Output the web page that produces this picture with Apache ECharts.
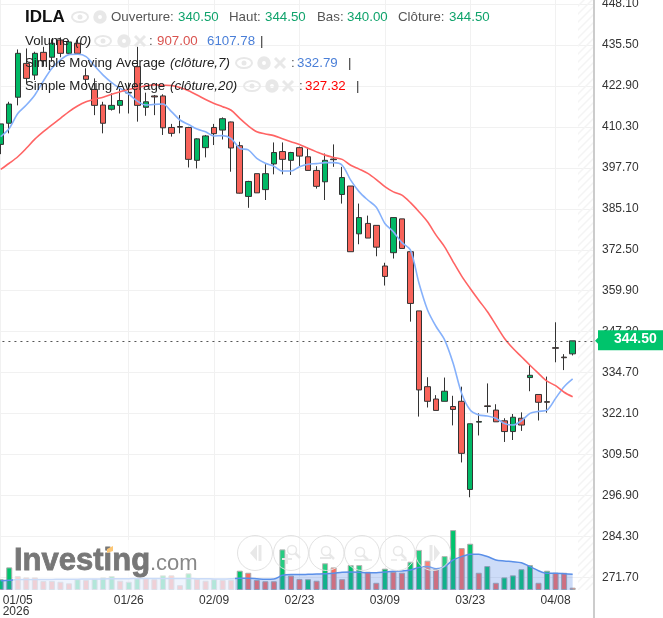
<!DOCTYPE html>
<html>
<head>
<meta charset="utf-8">
<title>IDLA</title>
<style>
html, body { margin: 0; padding: 0; background: #fff; }
#chart { width: 663px; height: 618px; }
</style>
<script src="https://cdn.jsdelivr.net/npm/echarts@6/dist/echarts.min.js"></script>
</head>
<body>
<div id="chart"></div>
<script>
// seances, dans l'ordre du graphique (les deux vides laissent la marge a droite)
const dates = [
  '01/05','01/06','01/07','01/08','01/09','01/12','01/13','01/14','01/15','01/16',
  '01/19','01/20','01/21','01/22','01/23','01/26','01/27','01/28','01/29','01/30',
  '02/02','02/03','02/04','02/05','02/06','02/09','02/10','02/11','02/12','02/13',
  '02/16','02/17','02/18','02/19','02/20','02/23','02/24','02/25','02/26','02/27',
  '03/02','03/03','03/04','03/05','03/06','03/09','03/10','03/11','03/12','03/13',
  '03/16','03/17','03/18','03/19','03/20','03/23','03/24','03/25','03/26','03/27',
  '03/30','03/31','04/01','04/02','04/07','04/08','04/09','04/10','',' '
]
const dateTicks = ['01/05','01/26','02/09','02/23','03/09','03/23','04/08']
const priceTicks = [448.1,435.5,422.9,410.3,397.7,385.1,372.5,359.9,347.3,334.7,322.1,309.5,296.9,284.3,271.7]

const opens = [
  404.9,411.4,419.4,429.8,426.2,433.2,431.7,437,432.9,436,
  426,421.8,417,415.7,416.9,420.7,428.8,416.3,419.8,419.8,
  410.1,410.4,410.1,400,403.9,410.1,409.3,411.8,404.5,388.9,
  395.9,391,398.9,402.7,400,403.9,401.1,396.9,393.4,400.4,
  389.5,392.1,377.4,380.6,380,367.5,371.6,382,371.9,353.7,
  330.4,326.6,325.9,324.3,325.9,298.8,319.5,324.5,323.2,319.9,
  316.6,320.7,333.2,328,325.8,342.4,339.5,340.5
]
const closes = [
  411.2,417.3,432.9,425.2,432.9,430.6,436,432.9,436.4,432.9,
  424.9,416.9,411.4,416.9,418.4,420.9,416.9,418,419.5,410,
  408.3,410.2,400.3,406.6,407.5,408.2,412.8,403.8,389.9,393.5,
  390,395.9,402.4,400.3,402.4,401.3,396.9,392,400,400.2,
  394.7,371.9,382.4,376.1,373.3,364.3,382.4,372.9,356,329.4,
  325.9,323.1,329,323.4,309.9,319,319.7,324.3,319.6,316.6,
  321,318.6,333.9,325.6,325.6,342.2,339.3,344.5
]
const lows = [
  401.9,408.3,416.9,423.7,424.7,428.8,430.3,431.7,432.4,432.4,
  423.2,413.9,408.3,415.3,414.4,414.4,411.9,413.7,413.9,407.8,
  407.3,408.3,397.8,397.5,400.9,404.7,406.4,396.5,389.8,385.4,
  390,387.8,395.7,395.7,395.5,398,396.9,391.3,387.8,398,
  386.7,371.9,374.2,376.1,370.5,361.5,369.8,372.9,350.4,321.2,
  324,323.1,325.9,318.5,307.1,296.4,315.4,322.4,319.6,313.4,
  314,316.8,329,320,322.4,337.9,335.5,340
]
const highs = [
  411.2,418,434.1,434.4,433.4,434.9,437.2,437.8,436.9,437.2,
  428.3,425.2,418,420.6,422.4,423.9,434.9,420.8,420.1,420.3,
  411.2,413.9,410.3,406.8,407.8,411.2,413.2,411.9,405.7,393.7,
  395.9,398.8,405.5,405.5,402.6,404.2,403.9,398.2,402.1,404.9,
  398,392.1,386.7,383,380,368.5,382.4,382,372.1,353.7,
  333.3,327.8,333.2,327.6,330.4,319,322.2,331.4,325,320.7,
  322,322.5,337,328,333.5,350.2,340.4,344.5
]
const sma7 = [
  407.3,409.8,414.4,417,420.1,424.4,428.3,430.9,432.5,432.6,
  431.9,429,426.2,423.9,422.1,420.4,418.2,417,417.2,417.3,
  415,412.4,411,409.6,408.8,407.5,407.6,406.7,403.7,403.2,
  400.6,399.1,398.2,396.7,396.7,398,398.8,399,399.3,399.3,
  398.5,393.9,390.3,387.8,385.6,380.6,378,374.7,372.4,362.2,
  354,348.9,344.8,337.6,328.3,323.2,321.7,321.4,320.7,319.1,
  318.6,319.9,322.2,322.8,323.2,326.8,330.4,332.79
]
const sma20 = [
  397.2,399.1,401.1,403.7,406.5,408.8,410.9,412.9,415,416.7,
  418,418.8,419.4,420.3,421.1,421.8,422.4,422.9,423.2,423.1,
  423,422.4,421.4,420.1,418.7,417.5,416.5,415.4,412.9,410.6,
  408.8,408.1,407.6,406.6,405.7,404.9,403.7,402.6,401.6,400.9,
  400.3,398.5,397.3,396,394.1,391.9,390.3,389.3,387,384.2,
  381.1,377,373.4,368.8,364.4,360.6,357,353.5,349.4,345.3,
  342.2,339.6,337,334.5,332.1,330.7,328.7,327.32
]
// volume en milliers
const volumes = [
  4.2,8.8,5.4,4.9,4.9,3.5,3.5,3.2,2.6,4.2,
  3.9,4.3,4.9,5.4,3.6,3.2,4.6,4.6,4.2,5.7,
  5.7,1.9,6.5,4.3,3.6,4.2,3.9,3.9,7.5,6.7,
  3.9,3.4,3.4,15.8,5.6,4.3,4.2,3.6,10.4,8.8,
  4.2,9.7,9.7,7.1,2.8,8.3,7.1,6.7,11,15.6,
  11.4,8.1,13.2,23.3,16.3,18,6.7,9.3,2.8,4.9,
  5.7,8.1,9.7,2.8,7.5,6.7,6.7,0.907
]
// 1 = barre verte, 0 = barre rouge
const volumeUp = [
  1,1,0,0,0,0,0,0,0,1,
  0,1,1,1,0,1,1,0,0,1,
  0,0,1,0,0,1,0,0,1,0,
  0,0,0,1,0,0,1,0,1,0,
  0,1,1,0,0,1,0,0,1,1,
  0,0,1,1,0,1,0,1,0,1,
  1,1,1,0,1,0,0,0
]
const volumeSma = [
  3.6,3.8,4.1,4.1,4.1,4.1,4.1,4.2,4.2,4.2,
  4.3,4.3,4.3,4.4,4.4,4.4,4.5,4.5,4.5,4.5,
  4.5,4.5,4.5,4.4,4.4,4.3,4.3,4.4,4.6,4.6,
  4.4,4.2,4.3,5.7,6,6,6.1,6.2,6.3,6.5,
  6.9,7,6.9,6.7,6.7,7,7.3,7.4,7.8,8.8,
  9.1,8.3,9.1,11.7,13,13.9,13.9,13,11.7,11.3,
  11,10.6,9.1,7.5,6.5,6.5,6.3,6.10778
]

const GREEN = '#00b865'
const RED = '#f8635a'
const last = closes.length - 1

const chart = echarts.init(document.getElementById('chart'))

chart.setOption({
  animation: false,
  backgroundColor: '#fff',
  textStyle: { fontFamily: '"Liberation Sans", Arial, sans-serif' },
  grid: { left: -3.57, right: 69, top: 0, bottom: 28, outerBoundsMode: 'none' },
  xAxis: {
    type: 'category',
    data: dates,
    axisLine: { show: false },
    axisTick: { show: false },
    axisLabel: {
      color: '#333',
      fontSize: 12,
      lineHeight: 11,
      margin: 5,
      alignMinLabel: 'left',
      interval: (i, name) => dateTicks.includes(name),
      formatter: v => v === '01/05' ? '{first|01/05}\n{first|2026}' : v,
      rich: { first: { padding: [0, 0, 0, 2], fontSize: 12, lineHeight: 11, color: '#333' } }
    },
    splitLine: {
      show: true,
      alignWithLabel: true,
      interval: (i, name) => dateTicks.includes(name),
      lineStyle: { color: '#f1f1f1', width: 1 }
    }
  },
  yAxis: [
    {
      type: 'value',
      position: 'right',
      min: 267.88,
      max: 449.3,
      axisLine: { show: true, lineStyle: { color: '#ccc', width: 2 } },
      axisTick: { show: false, customValues: priceTicks },
      axisLabel: {
        customValues: priceTicks,
        color: '#333',
        fontSize: 12,
        margin: 8,
        padding: [0, 0, 8, 0],
        formatter: v => v.toFixed(2)
      },
      splitLine: { show: true, lineStyle: { color: '#f1f1f1', width: 1 } }
    },
    { type: 'value', show: false, min: 0, max: 229.5, splitLine: { show: false } }
  ],
  series: [
    {
      type: 'bar',
      yAxisIndex: 1,
      barWidth: 6,
      z: 1,
      data: volumes.map((v, i) => ({
        value: v,
        itemStyle: { color: volumeUp[i] ? '#00c46c' : '#ff6b5e', borderColor: '#aaa', borderWidth: 1 }
      }))
    },
    {
      type: 'line',
      yAxisIndex: 1,
      data: volumeSma,
      smooth: 0.3,
      showSymbol: false,
      z: 2,
      lineStyle: { color: '#5a8fe8', width: 1.5 },
      areaStyle: { color: 'rgba(66,125,230,0.38)' }
    },
    {
      type: 'candlestick',
      barWidth: 6,
      z: 3,
      data: closes.map((c, i) => [opens[i], c, lows[i], highs[i]]),
      itemStyle: { color: GREEN, color0: RED, borderColor: '#333', borderColor0: '#333', borderColorDoji: '#111', borderWidth: 1 },
      markLine: {
        silent: true,
        symbol: 'none',
        label: { show: false },
        lineStyle: { color: '#555', type: [2, 4], width: 1 },
        data: [{ yAxis: closes[last] }]
      }
    },
    {
      type: 'line',
      data: sma7,
      smooth: 0.3,
      showSymbol: false,
      z: 4,
      lineStyle: { color: '#86b1fb', width: 1.6 }
    },
    {
      type: 'line',
      data: sma20,
      smooth: 0.3,
      showSymbol: false,
      z: 4,
      lineStyle: { color: '#ff6464', width: 1.6 }
    }
  ]
})

// --- habillage : legende, logo, boutons, hachures ---
const ICON = '#e8e8e8'
const TOP = 100

function line(x1, y1, x2, y2, w, color) {
  return { type: 'line', z: TOP, shape: { x1, y1, x2, y2 }, style: { stroke: color || ICON, lineWidth: w || 2 }, silent: true }
}
function ring(cx, cy, r, w, color) {
  return { type: 'circle', z: TOP, shape: { cx, cy, r }, style: { fill: 'none', stroke: color || ICON, lineWidth: w || 2 }, silent: true }
}
function eye(cx, cy) {
  return [
    { type: 'ellipse', z: TOP, shape: { cx, cy, rx: 8, ry: 5 }, style: { fill: 'none', stroke: ICON, lineWidth: 2 }, silent: true },
    { type: 'circle', z: TOP, shape: { cx, cy, r: 2.5 }, style: { fill: ICON }, silent: true }
  ]
}
function gear(cx, cy) {
  return [ring(cx, cy, 3.5, 3), ring(cx, cy, 5.5, 2.5)]
}
function cross(cx, cy) {
  return [line(cx - 5, cy - 5, cx + 5, cy + 5, 3), line(cx - 5, cy + 5, cx + 5, cy - 5, 3)]
}
function text(x, y, s, color, opt) {
  return {
    type: 'text', z: TOP + 1, x, y, silent: true,
    style: Object.assign({
      text: s, fill: color, fontSize: 13.3, fontFamily: '"Liberation Sans", Arial, sans-serif', verticalAlign: 'middle'
    }, opt || {})
  }
}
function magnifier(cx, cy) {
  return [ring(cx, cy, 4.5, 1.5), line(cx + 3, cy + 3, cx + 8, cy + 8, 2.5)]
}
function triangle(points) {
  return { type: 'polygon', z: TOP, shape: { points }, style: { fill: ICON }, silent: true }
}

// motif de hachures de la zone vide a droite
const hatch = document.createElement('canvas')
hatch.width = hatch.height = 8
const hc = hatch.getContext('2d')
hc.strokeStyle = '#f4f4f4'
hc.lineWidth = 1.5
hc.beginPath()
hc.moveTo(-2, 10); hc.lineTo(10, -2)
hc.moveTo(-2, 2); hc.lineTo(2, -2)
hc.moveTo(6, 10); hc.lineTo(10, 6)
hc.stroke()

const priceY = chart.convertToPixel({ yAxisIndex: 0 }, closes[last])

const labels = [
  text(25, 17, 'IDLA', '#111', { fontSize: 17, fontWeight: 'bold' }),
  text(111, 17, 'Ouverture:', '#555'),
  text(178, 17, '340.50', '#10a36c'),
  text(229, 17, 'Haut:', '#555'),
  text(265, 17, '344.50', '#10a36c'),
  text(317, 17, 'Bas:', '#555'),
  text(347, 17, '340.00', '#10a36c'),
  text(398, 17, 'Clôture:', '#555'),
  text(449, 17, '344.50', '#10a36c'),
  text(25, 41, 'Volume ', '#222'),
  text(75, 41, '(0)', '#222', { fontStyle: 'italic' }),
  text(149, 41, ':', '#555'),
  text(157, 41, '907.00', '#d9534f'),
  text(207, 41, '6107.78', '#4a7fd8'),
  text(260, 41, '|', '#333'),
  text(25, 63, 'Simple Moving Average', '#222'),
  text(170, 63, '(clôture,7)', '#222', { fontStyle: 'italic' }),
  text(291, 63, ':', '#555'),
  text(297, 63, '332.79', '#4a7fd8'),
  text(348, 63, '|', '#333'),
  text(25, 86, 'Simple Moving Average', '#222'),
  text(170, 86, '(clôture,20)', '#222', { fontStyle: 'italic' }),
  text(299, 86, ':', '#555'),
  text(305, 86, '327.32', '#f00'),
  text(356, 86, '|', '#333')
]
const legendIcons = [
  ...eye(80, 17), ...gear(100, 17),
  ...eye(103, 41), ...gear(124, 41), ...cross(140, 41),
  ...eye(244, 63), ...gear(264, 63), ...cross(280, 63),
  ...eye(252, 86), ...gear(272, 86), ...cross(288, 86)
]

const buttons = [255, 291, 326.5, 362, 397.5, 433].map(cx => ({
  type: 'circle', z: TOP, shape: { cx, cy: 553, r: 17.5 },
  style: { fill: 'rgba(255,255,255,0.15)', stroke: '#e2e2e2', lineWidth: 1 }, silent: true
}))
const buttonIcons = [
  triangle([[250, 553], [257, 545], [257, 561]]),
  line(260, 545, 260, 561, 3),
  ...magnifier(292, 550), line(282, 559, 292, 559, 2), line(287, 554, 287, 564, 2),
  ...magnifier(326, 551), line(320, 558, 331, 558, 2),
  ...magnifier(360, 552), line(354, 560, 372, 560, 1.5),
  ...magnifier(398, 551), line(391, 560, 397, 560, 1.5), line(401, 560, 407, 560, 1.5),
  triangle([[440, 553], [434, 545], [434, 561]]),
  line(431, 545, 431, 561, 3)
]

chart.setOption({
  graphic: [
    { type: 'rect', z: 0, shape: { x: 578, y: 0, width: 15, height: 590 }, style: { fill: { image: hatch, repeat: 'repeat' } }, silent: true },
    line(594, 0, 594, 618, 2, '#ccc'),
    // voile blanc sous le logo
    { type: 'rect', z: TOP - 1, shape: { x: 13, y: 540, width: 222, height: 50 }, style: { fill: 'rgba(255,255,255,0.68)' }, silent: true },
    text(14, 561, 'Investing', '#777', { fontSize: 31, fontWeight: 'bold', stroke: '#777', lineWidth: 0.8 }),
    text(150, 564, '.com', '#888', { fontSize: 22 }),
    { type: 'polygon', z: TOP + 1, shape: { points: [[107, 549], [113, 546], [113, 551], [107, 553]] }, style: { fill: '#fcc674' }, silent: true },
    ...buttons,
    ...buttonIcons,
    ...legendIcons,
    ...labels,
    {
      type: 'polygon', z: TOP + 1, silent: true,
      shape: { points: [[595, priceY], [598, priceY - 3], [598, priceY - 10.5], [663, priceY - 10.5], [663, priceY + 9.5], [598, priceY + 9.5], [598, priceY + 3]] },
      style: { fill: '#00c46c' }
    },
    text(614, priceY - 2, closes[last].toFixed(2), '#fff', { fontSize: 14, fontWeight: 'bold' })
  ]
})
</script>
</body>
</html>
